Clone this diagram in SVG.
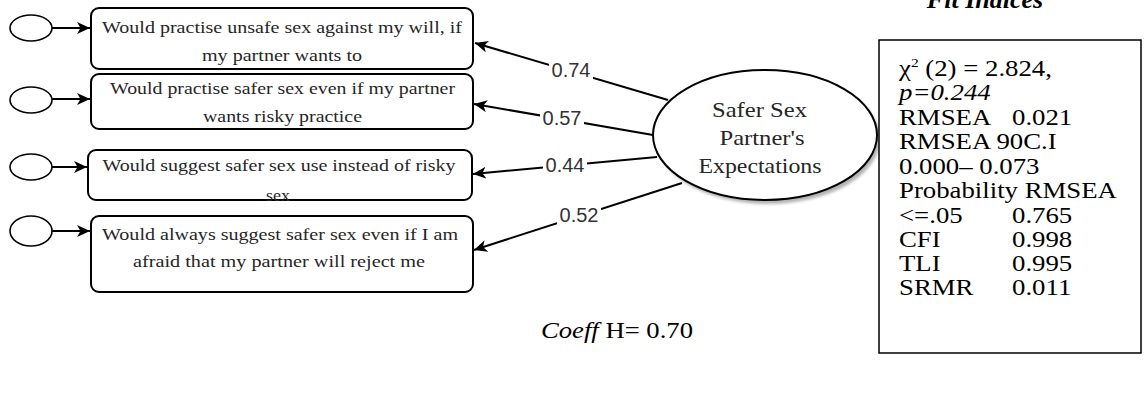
<svg xmlns="http://www.w3.org/2000/svg" width="1148" height="397" viewBox="0 0 1148 397">
  <style>
    .box { fill: #ffffff; stroke: #000000; stroke-width: 2; }
    .err { fill: #ffffff; stroke: #000000; stroke-width: 1.6; }
    .item { font-family: "Liberation Serif", "Times New Roman", serif; font-size: 17.5px; fill: #262626; text-anchor: middle; }
    .latent { font-family: "Liberation Serif", "Times New Roman", serif; font-size: 21px; fill: #262626; text-anchor: middle; }
    .edge { fill: none; stroke: #000000; stroke-width: 2; marker-end: url(#arrow); }
    .lbl-bg { fill: #ffffff; }
    .lbl { font-family: "Liberation Sans", Arial, sans-serif; font-size: 20px; fill: #333333; text-anchor: middle; }
    .fit { font-family: "Liberation Serif", "Times New Roman", serif; font-size: 22.5px; fill: #000000; }
  </style>
  <defs>
    <marker id="arrow" markerUnits="userSpaceOnUse" markerWidth="14" markerHeight="12" viewBox="0 0 14 12" refX="13" refY="6" orient="auto">
      <path d="M0,0 L13,6 L0,12 L3.5,6 Z" fill="#000000"/>
    </marker>
    <filter id="soft" x="-10%" y="-10%" width="120%" height="120%">
      <feGaussianBlur stdDeviation="1.5"/>
    </filter>
  </defs>

  <rect width="1148" height="397" fill="#ffffff"/>

  <!-- error terms and observed items -->
  <g id="item1">
    <ellipse class="err" cx="31" cy="28" rx="21" ry="13"/>
    <rect class="box" x="91" y="8" width="382" height="61" rx="8"/>
    <text class="item" x="282" y="33" textLength="360" lengthAdjust="spacingAndGlyphs">Would practise unsafe sex against my will, if</text>
    <text class="item" x="282" y="61" textLength="160" lengthAdjust="spacingAndGlyphs">my partner wants to</text>
  </g>
  <g id="item2">
    <ellipse class="err" cx="31" cy="100" rx="21" ry="13"/>
    <rect class="box" x="91" y="74" width="382" height="55" rx="8"/>
    <text class="item" x="282.5" y="94" textLength="345" lengthAdjust="spacingAndGlyphs">Would practise safer sex even if my partner</text>
    <text class="item" x="282.5" y="122" textLength="159" lengthAdjust="spacingAndGlyphs">wants risky practice</text>
  </g>
  <g id="item3">
    <ellipse class="err" cx="31" cy="167" rx="21" ry="13"/>
    <rect class="box" x="88" y="150" width="384" height="50" rx="8"/>
    <text class="item" x="279" y="171" textLength="353" lengthAdjust="spacingAndGlyphs">Would suggest safer sex use instead of risky</text>
    <text class="item" x="278" y="201" textLength="24" lengthAdjust="spacingAndGlyphs">sex</text>
  </g>
  <g id="item4">
    <ellipse class="err" cx="31" cy="231" rx="21" ry="15"/>
    <rect class="box" x="91" y="216" width="382" height="76" rx="8"/>
    <text class="item" x="280" y="240" textLength="356" lengthAdjust="spacingAndGlyphs">Would always suggest safer sex even if I am</text>
    <text class="item" x="279" y="267" textLength="292" lengthAdjust="spacingAndGlyphs">afraid that my partner will reject me</text>
  </g>

  <!-- latent factor -->
  <g id="factor">
    <ellipse cx="768" cy="139" rx="112" ry="65" fill="#b3b3b3" filter="url(#soft)"/>
    <ellipse cx="765" cy="135" rx="112" ry="65" fill="#ffffff" stroke="#000000" stroke-width="2"/>
    <text class="latent" x="759.5" y="117" textLength="95" lengthAdjust="spacingAndGlyphs">Safer Sex</text>
    <text class="latent" x="762" y="145" textLength="85" lengthAdjust="spacingAndGlyphs">Partner's</text>
    <text class="latent" x="760" y="173" textLength="123" lengthAdjust="spacingAndGlyphs">Expectations</text>
  </g>

  <!-- connectors: error arrows and factor loadings -->
  <g id="connectors">
    <path class="edge" d="M52,28 L90,28"/>
    <path class="edge" d="M52,99 L90,99"/>
    <path class="edge" d="M52,167 L87,167"/>
    <path class="edge" d="M52,231 L90,231"/>

    <path class="edge" d="M668,100 L475,43"/>
    <path class="edge" d="M653,135 L474,104"/>
    <path class="edge" d="M657,157 L473,174"/>
    <path class="edge" d="M682,183 L474,250"/>

    <rect class="lbl-bg" x="549" y="60" width="44" height="20"/>
    <text class="lbl" x="571" y="77">0.74</text>
    <rect class="lbl-bg" x="540" y="108" width="44" height="20"/>
    <text class="lbl" x="562" y="125">0.57</text>
    <rect class="lbl-bg" x="543" y="155" width="44" height="20"/>
    <text class="lbl" x="565" y="172">0.44</text>
    <rect class="lbl-bg" x="557" y="205" width="44" height="20"/>
    <text class="lbl" x="579" y="222">0.52</text>
  </g>

  <!-- reliability -->
  <text x="541" y="338" textLength="152" lengthAdjust="spacingAndGlyphs" font-family="Liberation Serif, Times New Roman, serif" font-size="23" fill="#000000"><tspan font-style="italic">Coeff</tspan> H= 0.70</text>

  <!-- fit indices panel -->
  <text x="985" y="8" text-anchor="middle" font-family="Liberation Serif, Times New Roman, serif" font-size="26" font-weight="bold" font-style="italic" fill="#000000">Fit Indices</text>
  <g id="fit-indices">
    <rect x="879" y="40" width="262" height="313" fill="#ffffff" stroke="#000000" stroke-width="1.5"/>
    <g transform="translate(899,0) scale(1.19,1)">
      <text class="fit" x="0" y="76">χ<tspan font-size="13" dy="-9">2</tspan><tspan dy="9"> (2) = 2.824,</tspan></text>
      <text class="fit" x="0" y="100" font-style="italic">p=0.244</text>
      <text class="fit" x="0" y="125">RMSEA</text>
      <text class="fit" x="95" y="125">0.021</text>
      <text class="fit" x="0" y="149">RMSEA 90C.I</text>
      <text class="fit" x="0" y="174">0.000– 0.073</text>
      <text class="fit" x="0" y="198">Probability RMSEA</text>
      <text class="fit" x="0" y="223">&lt;=.05</text>
      <text class="fit" x="95" y="223">0.765</text>
      <text class="fit" x="0" y="247">CFI</text>
      <text class="fit" x="95" y="247">0.998</text>
      <text class="fit" x="0" y="271">TLI</text>
      <text class="fit" x="95" y="271">0.995</text>
      <text class="fit" x="0" y="295">SRMR</text>
      <text class="fit" x="95" y="295">0.011</text>
    </g>
  </g>
</svg>
